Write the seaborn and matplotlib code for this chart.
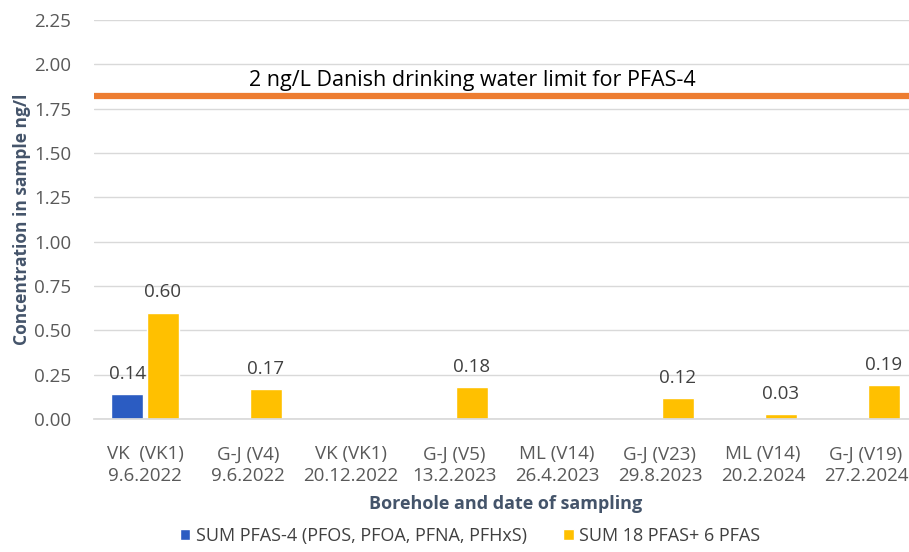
import numpy as np
import pandas as pd
import seaborn as sns
import matplotlib.pyplot as plt
import matplotlib.patches as mpatches

# Data
categories = ['VK  (VK1)\n9.6.2022', 'G-J (V4)\n9.6.2022', 'VK (VK1)\n20.12.2022',
              'G-J (V5)\n13.2.2023', 'ML (V14)\n26.4.2023', 'G-J (V23)\n29.8.2023',
              'ML (V14)\n20.2.2024', 'G-J (V19)\n27.2.2024']
pfas4 = [0.14, np.nan, np.nan, np.nan, np.nan, np.nan, np.nan, np.nan]
pfas24 = [0.60, 0.17, np.nan, 0.18, np.nan, 0.12, 0.03, 0.19]
series_names = ['SUM PFAS-4 (PFOS, PFOA, PFNA, PFHxS)', 'SUM 18 PFAS+ 6 PFAS']
limit_value = 1.82
limit_text = '2 ng/L Danish drinking water limit for PFAS-4'

df = pd.DataFrame({
    'category': categories * 2,
    'value': pfas4 + pfas24,
    'series': [series_names[0]] * len(categories) + [series_names[1]] * len(categories),
})

sns.set_theme(style='white')
plt.rcParams['font.family'] = ['Open Sans', 'DejaVu Sans']

colors = ['#2B5CC2', '#FFC000']
fig = plt.figure(figsize=(9.09, 5.52), dpi=100)
ax = fig.add_axes([93.5 / 909, 1 - 419 / 552, 824 / 909, 399 / 552])

sns.barplot(data=df, x='category', y='value', hue='series', palette=colors,
            width=0.69, gap=0.1, ax=ax, legend=False, saturation=1)

for cont in ax.containers:
    ax.bar_label(cont, fmt='%.2f', padding=8, fontsize=13.5, color='#404040')

ax.axhline(limit_value, color='#ED7D31', linewidth=4.5, zorder=3)
ax.text(0.46, limit_value + 0.03, limit_text, transform=ax.get_yaxis_transform(),
        fontsize=15.5, color='black', ha='center', va='bottom')

ax.set_ylim(0, 2.25)
ax.set_xlim(-0.5, len(categories) - 0.5)
ax.set_yticks(np.arange(0, 2.26, 0.25))
ax.yaxis.grid(True, color='#D9D9D9', linewidth=1)
ax.set_axisbelow(True)
for s in ['top', 'right', 'left']:
    ax.spines[s].set_visible(False)
ax.spines['bottom'].set_color('#D9D9D9')
ax.tick_params(axis='y', length=0, labelsize=13.5, colors='#595959', pad=16)
ax.tick_params(axis='x', length=0, labelsize=13.5, colors='#595959', pad=19)
for lbl in ax.get_xticklabels():
    lbl.set_linespacing(1.28)
ax.set_ylabel('Concentration in sample ng/l', fontsize=12.5, fontweight='bold',
              color='#44546A', labelpad=2)
ax.set_xlabel('Borehole and date of sampling', fontsize=13, fontweight='bold',
              color='#44546A', labelpad=7)

handles = [mpatches.Patch(facecolor=c) for c in colors]
fig.legend(handles=handles, labels=series_names, loc='center', ncol=2,
           bbox_to_anchor=(470 / 909, 1 - 536 / 552), frameon=False,
           fontsize=13, labelcolor='#404040', handlelength=0.6, handleheight=0.6,
           handletextpad=0.3, columnspacing=2.0)

fig.savefig('out.png', dpi=100)
